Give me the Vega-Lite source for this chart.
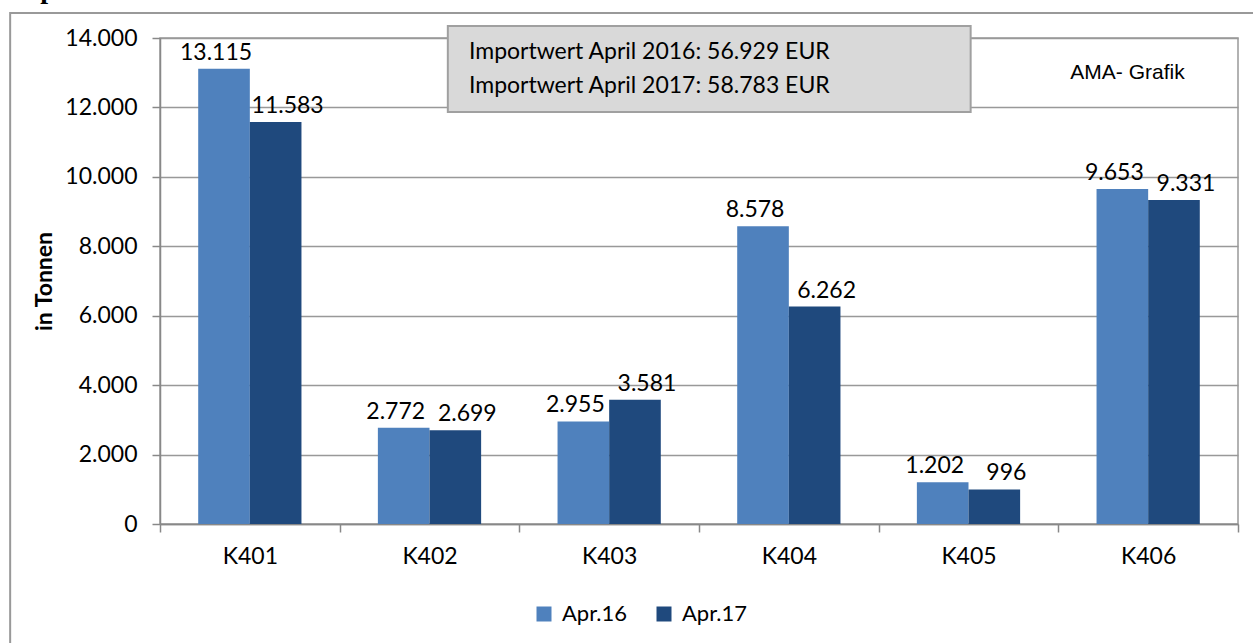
{
  "$schema": "https://vega.github.io/schema/vega-lite/v6.json",
  "autosize": "none",
  "width": 1078,
  "height": 486,
  "padding": {"left": 160, "top": 38, "right": 15, "bottom": 119},
  "background": "white",
  "config": {
    "locale": {"number": {"decimal": ",", "thousands": ".", "grouping": [3], "currency": ["", " €"]}},
    "view": {"stroke": "#999", "strokeWidth": 1.5},
    "font": "Lato"
  },
  "datasets": {
    "imports": [
      {"cat": "K401", "period": "Apr.16", "t": 13115},
      {"cat": "K401", "period": "Apr.17", "t": 11583},
      {"cat": "K402", "period": "Apr.16", "t": 2772},
      {"cat": "K402", "period": "Apr.17", "t": 2699},
      {"cat": "K403", "period": "Apr.16", "t": 2955},
      {"cat": "K403", "period": "Apr.17", "t": 3581},
      {"cat": "K404", "period": "Apr.16", "t": 8578},
      {"cat": "K404", "period": "Apr.17", "t": 6262},
      {"cat": "K405", "period": "Apr.16", "t": 1202},
      {"cat": "K405", "period": "Apr.17", "t": 996},
      {"cat": "K406", "period": "Apr.16", "t": 9653},
      {"cat": "K406", "period": "Apr.17", "t": 9331}
    ]
  },
  "layer": [
    {
      "data": {"name": "imports"},
      "encoding": {
        "x": {
          "field": "cat", "type": "nominal", "sort": null,
          "scale": {"paddingInner": 0, "paddingOuter": 0},
          "axis": {
            "title": null, "tickBand": "extent", "labelAngle": 0,
            "labelFontSize": 23, "labelColor": "black", "labelPadding": 13,
            "tickSize": 8, "tickColor": "#888", "tickWidth": 1.5,
            "domainColor": "#888", "domainWidth": 1.5, "grid": false
          }
        },
        "xOffset": {"field": "period", "type": "nominal", "scale": {"paddingInner": 0, "paddingOuter": 0.74}},
        "y": {
          "field": "t", "type": "quantitative",
          "scale": {"domain": [0, 14000], "nice": false},
          "axis": {
            "title": "in Tonnen", "values": [0, 2000, 4000, 6000, 8000, 10000, 12000, 14000],
            "format": ",d", "labelFontSize": 23, "labelColor": "black", "labelPadding": 15,
            "tickSize": 8, "tickColor": "#888", "tickWidth": 1.5,
            "domainColor": "#888", "domainWidth": 1.5,
            "grid": true, "gridColor": "#999", "gridWidth": 1.5,
            "titleFontSize": 23, "titleFontWeight": "bold", "titleColor": "black", "titlePadding": 8
          }
        }
      },
      "layer": [
        {
          "mark": {"type": "bar"},
          "encoding": {
            "color": {
              "field": "period", "type": "nominal",
              "scale": {"domain": ["Apr.16", "Apr.17"], "range": ["#4f81bd", "#1f497d"]},
              "legend": {
                "title": null, "orient": "none", "direction": "horizontal",
                "legendX": 373, "legendY": 565, "padding": 0,
                "symbolType": "square", "symbolSize": 225, "symbolStrokeWidth": 0,
                "labelFontSize": 22, "labelColor": "black", "labelOffset": 7, "columnPadding": 25
              }
            }
          }
        },
        {
          "transform": [{"filter": "datum.period === 'Apr.16'"}],
          "mark": {"type": "text", "baseline": "alphabetic", "dy": -9, "dx": -8, "fontSize": 23, "color": "black"},
          "encoding": {"text": {"field": "t", "type": "quantitative", "format": ",d"}}
        },
        {
          "transform": [{"filter": "datum.period === 'Apr.17'"}],
          "mark": {"type": "text", "baseline": "alphabetic", "dy": -9, "dx": 12, "fontSize": 23, "color": "black"},
          "encoding": {"text": {"field": "t", "type": "quantitative", "format": ",d"}}
        }
      ]
    },
    {
      "data": {"values": [{"x1": -0.139, "x2": 1.03, "y1": 14720, "y2": -4000}]},
      "mark": {"type": "rect", "fill": null, "stroke": "#999", "strokeWidth": 2},
      "encoding": {
        "x": {"field": "x1", "type": "quantitative", "scale": {"domain": [0, 1], "nice": false, "zero": false}, "axis": null},
        "x2": {"field": "x2"},
        "y": {"field": "y1", "type": "quantitative"},
        "y2": {"field": "y2"}
      }
    },
    {
      "data": {"values": [{"x1": 0.267, "x2": 0.752, "y1": 14346, "y2": 11868}]},
      "mark": {"type": "rect", "fill": "#d9d9d9", "stroke": "#a0a0a0", "strokeWidth": 2},
      "encoding": {
        "x": {"field": "x1", "type": "quantitative", "scale": {"domain": [0, 1], "nice": false, "zero": false}, "axis": null},
        "x2": {"field": "x2"},
        "y": {"field": "y1", "type": "quantitative"},
        "y2": {"field": "y2"}
      }
    },
    {
      "data": {"values": [
        {"label": "Importwert April 2016: 56.929 EUR", "x": 0.2866, "y": 13597},
        {"label": "Importwert April 2017: 58.783 EUR", "x": 0.2866, "y": 12617}
      ]},
      "mark": {"type": "text", "align": "left", "baseline": "middle", "fontSize": 23, "color": "black"},
      "encoding": {
        "x": {"field": "x", "type": "quantitative", "scale": {"domain": [0, 1], "nice": false, "zero": false}, "axis": null},
        "y": {"field": "y", "type": "quantitative"},
        "text": {"field": "label"}
      }
    },
    {
      "data": {"values": [{"label": "AMA- Grafik", "x": 0.8975, "y": 12992}]},
      "mark": {"type": "text", "align": "center", "baseline": "middle", "fontSize": 21, "font": "Liberation Sans", "color": "black"},
      "encoding": {
        "x": {"field": "x", "type": "quantitative", "scale": {"domain": [0, 1], "nice": false, "zero": false}, "axis": null},
        "y": {"field": "y", "type": "quantitative"},
        "text": {"field": "label"}
      }
    },
    {
      "data": {"values": [{"label": "p", "x": -0.111, "y": 15152}]},
      "mark": {"type": "text", "align": "left", "baseline": "alphabetic", "fontSize": 28, "font": "Liberation Serif", "fontWeight": "bold", "color": "black"},
      "encoding": {
        "x": {"field": "x", "type": "quantitative", "scale": {"domain": [0, 1], "nice": false, "zero": false}, "axis": null},
        "y": {"field": "y", "type": "quantitative"},
        "text": {"field": "label"}
      }
    }
  ],
  "resolve": {"scale": {"x": "independent"}}
}
